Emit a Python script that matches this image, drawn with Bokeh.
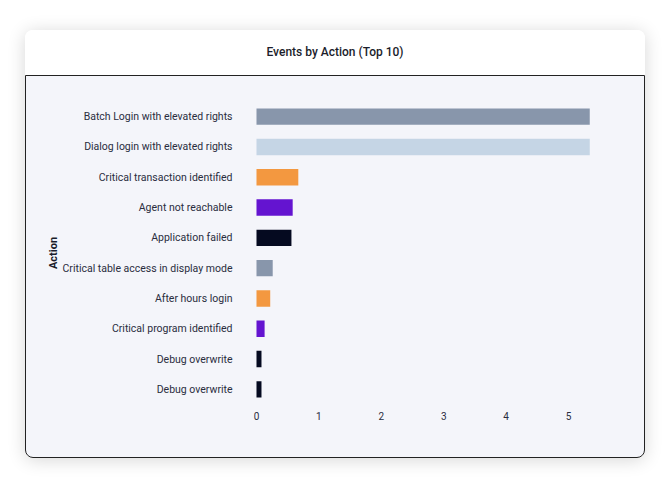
from bokeh.plotting import figure
from bokeh.models import Div, Range1d, FixedTicker
from bokeh.layouts import column
from bokeh.embed import file_html
from bokeh.resources import INLINE

title_text = "Events by Action (Top 10)"
actions = [
    "Batch Login with elevated rights",
    "Dialog login with elevated rights",
    "Critical transaction identified",
    "Agent not reachable",
    "Application failed",
    "Critical table access in display mode",
    "After hours login",
    "Critical program identified",
    "Debug overwrite",
    "Debug overwrite",
]
counts = [5.34, 5.34, 0.67, 0.58, 0.56, 0.26, 0.22, 0.13, 0.08, 0.08]
colors = ["#8896ab", "#c5d5e5", "#f39840", "#6414d0", "#050a20",
          "#8896ab", "#f39840", "#6414d0", "#050a20", "#050a20"]
x_ticks = [0, 1, 2, 3, 4, 5]

positions = list(range(len(actions)))

header = Div(
    text=('<div style="width:620px;height:45px;display:flex;align-items:center;'
          'justify-content:center;font-family:Roboto;font-size:12px;font-weight:500;'
          'color:#1b1d2b;">' + title_text + '</div>'),
    width=620, height=45, margin=0,
    styles={"background-color": "white", "border-radius": "8px 8px 0 0"},
)

p = figure(width=620, height=383, output_backend="svg", toolbar_location=None,
           x_range=Range1d(-0.112, 5.977), y_range=Range1d(9.5, -0.5),
           min_border_left=223, min_border_right=17, min_border_top=25,
           min_border_bottom=55, margin=0,
           styles={"border": "1px solid #222", "border-radius": "0 0 8px 8px",
                   "overflow": "hidden", "background-color": "#f4f5fa"})
p.background_fill_color = None
p.border_fill_color = None
p.outline_line_color = None
p.grid.visible = False

p.hbar(y=positions, right=counts, left=0, height=0.54, color=colors, line_color=None)

p.xaxis.ticker = FixedTicker(ticks=x_ticks)
p.yaxis.ticker = FixedTicker(ticks=positions)
p.yaxis.major_label_overrides = {i: a for i, a in zip(positions, actions)}
for ax in (p.xaxis[0], p.yaxis[0]):
    ax.axis_line_color = None
    ax.major_tick_line_color = None
    ax.minor_tick_line_color = None
    ax.major_label_text_font = "Roboto"
    ax.major_label_text_color = "#2a2d3e"
p.xaxis.major_label_text_font_size = "10px"
p.xaxis.major_label_standoff = 1
p.yaxis.major_label_text_font_size = "10.5px"
p.yaxis.major_label_standoff = 11
p.yaxis.axis_label = "Action"
p.yaxis.axis_label_text_font = "Roboto"
p.yaxis.axis_label_text_font_size = "11px"
p.yaxis.axis_label_text_font_style = "bold"
p.yaxis.axis_label_text_color = "#1b1d2b"
p.yaxis.axis_label_standoff = 0

layout = column(header, p, margin=(30, 0, 0, 25),
                styles={"box-shadow": "0 2px 18px rgba(0,0,0,0.16)",
                        "border-radius": "8px"})

open("out.html", "w").write(file_html(layout, INLINE))
